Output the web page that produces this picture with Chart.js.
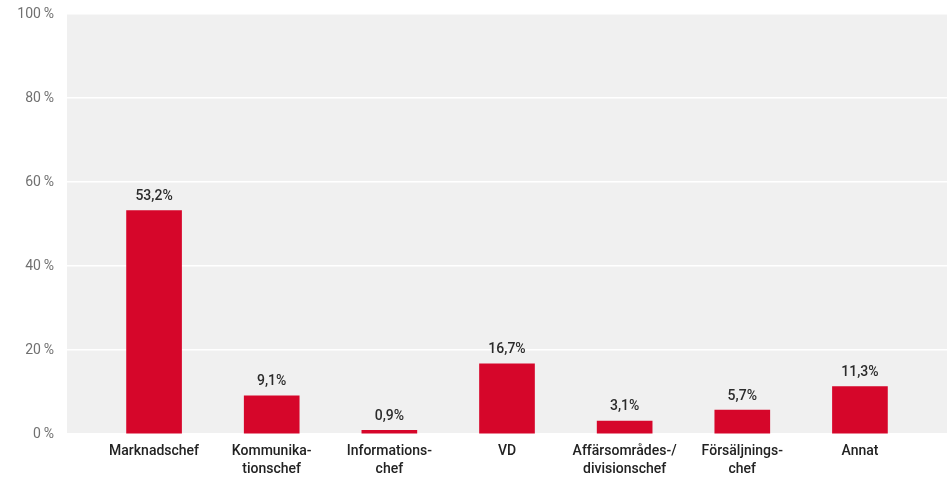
<!DOCTYPE html>
<html>
<head>
<meta charset="utf-8">
<script src="https://cdn.jsdelivr.net/npm/chart.js@4/dist/chart.umd.min.js"></script>
<style>
  html, body { margin: 0; padding: 0; background: #fff; }
</style>
</head>
<body>
<canvas id="c" width="950" height="478"></canvas>
<script>
// Roles answering the survey question (share of respondents, %)
const categories = [
  "Marknadschef",
  ["Kommunika-", "tionschef"],
  ["Informations-", "chef"],
  "VD",
  ["Affärsområdes-/", "divisionschef"],
  ["Försäljnings-", "chef"],
  "Annat"
];
const shares = [53.2, 9.1, 0.9, 16.7, 3.1, 5.7, 11.3];
const yTicks = [0, 20, 40, 60, 80, 100];

const FONT = "Roboto, 'Liberation Sans', sans-serif";
const fmt = v => v.toFixed(1).replace('.', ',') + '%';

// Grey plot panel behind the bars
const panel = {
  id: 'panel',
  beforeDraw(chart) {
    const { ctx, chartArea: a } = chart;
    ctx.save();
    ctx.fillStyle = '#f0f0f0';
    ctx.fillRect(a.left, a.top, a.right - a.left, a.bottom - a.top);
    ctx.restore();
  }
};

// Value labels above each bar
const valueLabels = {
  id: 'valueLabels',
  afterDatasetsDraw(chart) {
    const { ctx } = chart;
    const meta = chart.getDatasetMeta(0);
    ctx.save();
    ctx.font = `500 14px ${FONT}`;
    ctx.fillStyle = '#2b2b2b';
    ctx.textAlign = 'center';
    ctx.textBaseline = 'bottom';
    meta.data.forEach((bar, i) => {
      ctx.fillText(fmt(shares[i]), bar.x, bar.y - 7);
    });
    ctx.restore();
  }
};

new Chart(document.getElementById('c'), {
  type: 'bar',
  data: {
    datasets: [{
      data: shares.map((v, i) => ({ x: i, y: v })),
      backgroundColor: '#d6062a',
      borderWidth: 0,
      barThickness: 55
    }]
  },
  options: {
    responsive: false,
    animation: false,
    devicePixelRatio: 1,
    layout: { padding: { top: 14, right: 3, left: 0, bottom: 0 } },
    plugins: { legend: { display: false }, tooltip: { enabled: false } },
    scales: {
      x: {
        type: 'linear',
        offset: false,
        min: -0.74,
        max: 6.74,
        afterBuildTicks: s => { s.ticks = categories.map((_, i) => ({ value: i })); },
        afterFit: s => { s.height = 44; s.paddingLeft = 0; s.paddingRight = 0; },
        grid: { display: false, drawTicks: false, offset: false },
        border: { display: false },
        ticks: {
          autoSkip: false,
          maxRotation: 0,
          padding: 9,
          color: '#222',
          font: { family: FONT, size: 14, weight: 500, lineHeight: 1.25 },
          callback: v => categories[v]
        }
      },
      y: {
        min: 0,
        max: 100,
        afterBuildTicks: s => { s.ticks = yTicks.map(v => ({ value: v })); },
        afterFit: s => { s.width = 67; s.paddingTop = 0; s.paddingBottom = 0; },
        grid: { color: '#ffffff', lineWidth: 1.5, drawTicks: false },
        border: { display: false },
        ticks: {
          padding: 13,
          color: '#707070',
          font: { family: FONT, size: 14 },
          callback: v => v + '\u2009%'
        }
      }
    }
  },
  plugins: [panel, valueLabels]
});
</script>
</body>
</html>
